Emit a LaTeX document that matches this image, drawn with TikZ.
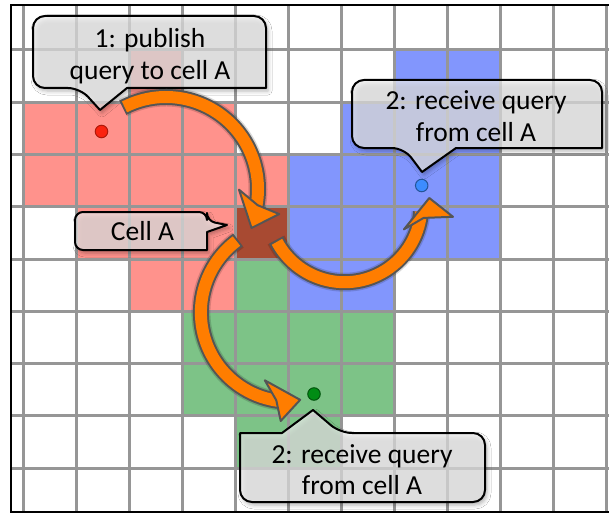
\documentclass[tikz,border=0pt]{standalone}
\usepackage{fontspec}
\setmainfont{Carlito}
\usetikzlibrary{calc,shadows.blur}

\definecolor{cellred}{RGB}{255,146,140}
\definecolor{cellblue}{RGB}{130,150,253}
\definecolor{cellgreen}{RGB}{125,195,135}
\definecolor{cellA}{RGB}{168,74,50}
\definecolor{gridgray}{RGB}{150,150,150}
\definecolor{arroworange}{RGB}{255,125,0}
\definecolor{arrowedge}{RGB}{85,85,85}
\definecolor{balloonfill}{RGB}{240,240,240}
\definecolor{dotred}{RGB}{250,35,15}
\definecolor{dotblue}{RGB}{60,140,255}
\definecolor{dotgreen}{RGB}{0,140,20}

\begin{document}
\begin{tikzpicture}[x=1pt,y=-1pt,
  gridline/.style={draw=gridgray, line width=3},
  framebar/.style={draw=black, line width=2},
  balloon/.style={draw=black, line width=2, line join=round, fill=balloonfill, fill opacity=0.7,
    blur shadow={shadow xshift=2pt, shadow yshift=-3pt, shadow blur radius=4pt, shadow opacity=30}},
  caption/.style={font=\fontsize{27.5}{31.5}\selectfont, align=center, inner sep=0pt},
  shaftedge/.style={draw=arrowedge, line width=16, line cap=butt},
  shaftcore/.style={draw=arroworange, line width=12, line cap=butt},
  headstyle/.style={draw=arrowedge, line width=2, fill=arroworange, line join=round},
  arrowshade/.style={draw=black, line width=19, opacity=0.15},
  headshade/.style={fill=black, opacity=0.15},
  dot/.style={circle, minimum size=12.5pt, inner sep=0pt, line width=1}]

% canvas
\useasboundingbox (0,0) rectangle (609,513);
\fill[white] (0,0) rectangle (609,513);

% coloured cells (column/row), columns 53 wide from x=23, rows 52.25 high from y=50
\foreach \c/\r in {3/1, 1/2,2/2,3/2,4/2, 1/3,2/3,3/3,4/3,5/3, 2/4,3/4,4/4, 3/5,4/5}
  \fill[cellred] ({23+53*(\c-1)},{50+52.25*(\r-1)}) rectangle ++(53,52.25);
\foreach \c/\r in {8/1,9/1, 7/2,8/2,9/2, 6/3,7/3,8/3,9/3, 6/4,7/4,8/4,9/4, 6/5,7/5}
  \fill[cellblue] ({23+53*(\c-1)},{50+52.25*(\r-1)}) rectangle ++(53,52.25);
\foreach \c/\r in {5/5, 4/6,5/6,6/6,7/6, 4/7,5/7,6/7,7/7, 5/8,6/8}
  \fill[cellgreen] ({23+53*(\c-1)},{50+52.25*(\r-1)}) rectangle ++(53,52.25);
\fill[cellA] ({23+53*4},{50+52.25*3}) rectangle ++(53,52.25);

% grid
\foreach \k in {0,...,11}
  \draw[gridline] ({23+53*\k},5) -- ({23+53*\k},512);
\foreach \k in {0,...,8}
  \draw[gridline] (11,{50+52.25*\k}) -- (609,{50+52.25*\k});

% frame
\draw[framebar] (609,5) -- (11,5) -- (11,512) -- (609,512);

% speech balloons
\draw[balloon] (100,110) -- (127,88) -- (266,88) [rounded corners=12] -- (266,16) -- (33,16)
  -- (33,88) -- (80,88) [sharp corners] -- cycle;
\draw[balloon] (422,172) -- (456,148) -- (602,148) [rounded corners=12] -- (602,80) -- (352,80)
  -- (352,148) -- (404,148) [sharp corners] -- cycle;
\draw[balloon] (313,410) -- (282,433) -- (240,433) [rounded corners=12] -- (240,502) -- (485,502)
  -- (485,433) -- (340,433) [sharp corners] -- cycle;
\draw[balloon] (227,225) -- (207,232) -- (207,250) [rounded corners=8] -- (75,250) -- (75,212)
  -- (207,212) -- (207,221) [sharp corners] -- cycle;

\node[caption] (pubText) at (150,56) {1: publish\\query to cell A};
\node[caption] (blueText) at (476,116) {2: receive query\\from cell A};
\node[caption] (greenText) at (362,469.5) {2: receive query\\from cell A};
\node[caption] (cellText) at (142.5,231.5) {Cell A};

% publishing point and receivers
\node[dot, fill=dotred, draw=dotred!70!black] (redDot) at (101.5,131.5) {};
\node[dot, fill=dotblue, draw=dotblue!60!black] (blueDot) at (421.7,185.5) {};
\node[dot, fill=dotgreen, draw=dotgreen!60!black] (greenDot) at (314,394) {};

% curved arrow: publish to cell A
\coordinate (cA) at (166,189);
\coordinate (tailA) at ($(cA)+(-118:92)$);
\begin{scope}[shift={(1.5,2.5)}]
  \draw[arrowshade] (tailA) arc[start angle=-118, end angle=13, radius=92];
  \fill[headshade] ($(cA)+(0.5:73)$) -- ($(cA)+(24.5:94)$) -- ($(cA)+(12.5:116)$) -- ($(cA)+(10:93)$) -- cycle;
\end{scope}
\draw[shaftedge] (tailA) arc[start angle=-118, end angle=13, radius=92];
\draw[shaftcore] ($(cA)+(-116.8:92)$) arc[start angle=-116.8, end angle=13, radius=92];
\draw[headstyle] ($(cA)+(0.5:73)$) -- ($(cA)+(24.5:94)$) -- ($(cA)+(12.5:116)$) -- ($(cA)+(10:93)$) -- cycle;

% curved arrow: cell A to the blue receiver
\coordinate (cB) at (344.6,205.4);
\coordinate (tailB) at ($(cB)+(153.2:76.8)$);
\begin{scope}[shift={(1.5,2.5)}]
  \draw[arrowshade] (tailB) arc[start angle=153.2, end angle=5, radius=76.8];
  \fill[headshade] ($(cB)+(22:64)$) -- ($(cB)+(-5:85)$) -- ($(cB)+(6:109)$) -- ($(cB)+(9:80)$) -- cycle;
\end{scope}
\draw[shaftedge] (tailB) arc[start angle=153.2, end angle=5, radius=76.8];
\draw[shaftcore] ($(cB)+(151.7:76.8)$) arc[start angle=151.7, end angle=5, radius=76.8];
\draw[headstyle] ($(cB)+(22:64)$) -- ($(cB)+(-5:85)$) -- ($(cB)+(6:109)$) -- ($(cB)+(9:80)$) -- cycle;

% curved arrow: cell A to the green receiver
\coordinate (cC) at (290.2,312.4);
\coordinate (tailC) at ($(cC)+(234.2:89.3)$);
\begin{scope}[shift={(1.5,2.5)}]
  \draw[arrowshade] (tailC) arc[start angle=234.2, end angle=93, radius=89.3];
  \fill[headshade] ($(cC)+(110.5:72.5)$) -- ($(cC)+(83.5:88)$) -- ($(cC)+(95:109)$) -- ($(cC)+(99:89)$) -- cycle;
\end{scope}
\draw[shaftedge] (tailC) arc[start angle=234.2, end angle=93, radius=89.3];
\draw[shaftcore] ($(cC)+(233:89.3)$) arc[start angle=233, end angle=93, radius=89.3];
\draw[headstyle] ($(cC)+(110.5:72.5)$) -- ($(cC)+(83.5:88)$) -- ($(cC)+(95:109)$) -- ($(cC)+(99:89)$) -- cycle;

\end{tikzpicture}
\end{document}
